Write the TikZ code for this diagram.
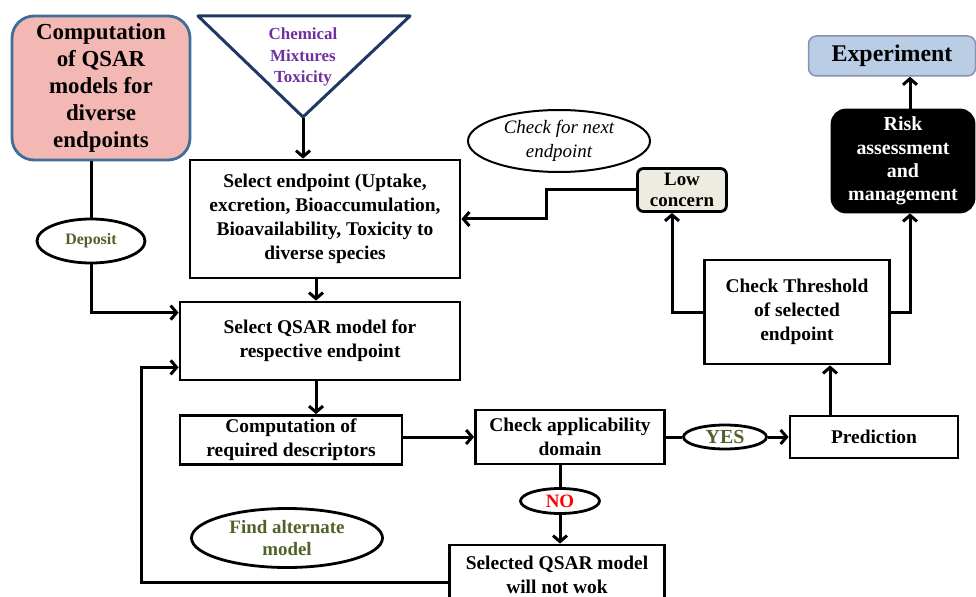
\documentclass[tikz,border=0pt]{standalone}
\usepackage{fontspec}
\setmainfont{Liberation Serif}
\usetikzlibrary{arrows.meta,shapes.geometric}
\begin{document}
\begin{tikzpicture}[x=1bp,y=-1bp,
  box/.style={draw,line width=2.8bp,inner sep=0pt,align=center,font=\bfseries\fontsize{19.5}{24}\selectfont},
  tag/.style={draw,ellipse,line width=2.8bp,inner sep=0pt,align=center,font=\bfseries\fontsize{19}{22}\selectfont},
  link/.style={line width=3bp},
  arr/.style={link,-{Straight Barb[length=6bp,width=14bp]}}]
\definecolor{customcolor0}{HTML}{F4B8B4}
\definecolor{customcolor1}{HTML}{1F3864}
\definecolor{customcolor2}{HTML}{7030A0}
\definecolor{customcolor3}{HTML}{4F6228}
\definecolor{customcolor4}{HTML}{EEECE1}
\definecolor{customcolor5}{HTML}{B9CDE5}
\definecolor{customcolor6}{HTML}{8E8EB4}
\definecolor{customcolor7}{HTML}{3E6F98}
\useasboundingbox (0,0) rectangle (976,597);
% source boxes
\node[box,fill=customcolor0,draw=customcolor7,rounded corners=22bp,minimum width=178bp,minimum height=144bp,font=\bfseries\fontsize{23}{27}\selectfont] (comp) at (101,88) {Computation\\of QSAR\\models for\\diverse\\endpoints};
\draw[customcolor1,line width=3bp,line join=round] (198,16) -- (410,16) -- (303,117) -- cycle;
\coordinate (apex) at (303,118);
\node[align=center,text=customcolor2,font=\bfseries\fontsize{17}{22}\selectfont] (chem) at (303,57) {Chemical\\Mixtures\\Toxicity};
% main column
\coordinate (spine) at (316,0);
\node[box,minimum width=270bp,minimum height=118bp] (selend) at (325,219) {Select endpoint (Uptake,\\excretion, Bioaccumulation,\\Bioavailability, Toxicity to\\diverse species};
\node[box,minimum width=280bp,minimum height=78bp] (qsar) at (320,341) {Select QSAR model for\\respective endpoint};
\node[box,minimum width=222bp,minimum height=49bp] (desc) at (291,440) {Computation of\\required descriptors};
\node[box,minimum width=189bp,minimum height=54bp] (app) at (570,437) {Check applicability\\domain};
\node[box,minimum width=215bp,minimum height=60bp] (sel) at (557,575) {Selected QSAR model\\will not wok};
\node[box,minimum width=168bp,minimum height=42bp] (pred) at (874,437) {Prediction};
\node[box,minimum width=185bp,minimum height=104bp] (thr) at (797,312) {Check Threshold\\of selected\\endpoint};
\node[box,fill=customcolor4,rounded corners=6bp,minimum width=89bp,minimum height=43bp,font=\bfseries\fontsize{19}{21}\selectfont] (low) at (682,190) {Low\\concern};
\node[box,fill=black,text=white,rounded corners=14bp,minimum width=142bp,minimum height=102bp,font=\bfseries\fontsize{20}{23.5}\selectfont] (risk) at (903,161) {Risk\\assessment\\and\\management};
\node[box,fill=customcolor5,draw=customcolor6,line width=1.5bp,rounded corners=8bp,minimum width=167bp,minimum height=40bp,font=\bfseries\fontsize{24}{28}\selectfont] (exp) at (892,56) {Experiment};
% labels
\node[tag,minimum width=108bp,minimum height=44bp,text=customcolor3,font=\bfseries\fontsize{16}{20}\selectfont] (dep) at (91,241) {Deposit};
\node[tag,line width=2bp,minimum width=182bp,minimum height=62bp,font=\itshape\fontsize{19}{24}\selectfont] (next) at (559,141) {Check for next\\endpoint};
\node[tag,minimum width=191bp,minimum height=59bp,text=customcolor3] (find) at (287,538) {Find alternate\\model};
\node[tag,minimum width=83bp,minimum height=24bp,text=customcolor3,font=\bfseries\fontsize{20}{22}\selectfont] (yes) at (725,437) {YES};
\node[tag,minimum width=79bp,minimum height=25bp,text=red] (no) at (560,501) {NO};
% connectors
\draw[link] (comp.south -| dep) -- (dep.north);
\draw[arr] (dep.south) |- ([yshift=-12bp]qsar.north west);
\draw[arr] (apex) -- (apex |- selend.north);
\draw[arr] (selend.south -| spine) -- (qsar.north -| spine);
\draw[arr] (qsar.south -| spine) -- (desc.north -| spine);
\draw[arr] (desc.east |- app.west) -- (app.west);
\draw[link] (app.east) -- (yes.west);
\draw[arr] (yes.east) -- (pred.west);
\draw[link] (no.north |- app.south) -- (no.north);
\draw[arr] (no.south) -- (sel.north -| no.south);
\draw[arr] ([yshift=-7bp]sel.west) -- ++(-307,0) |- ([yshift=14bp]qsar.south west);
\draw[arr] ([xshift=-44bp]pred.north) -- ([xshift=-44bp]pred.north |- thr.south);
\draw[arr] (thr.west) -| ([xshift=-10bp]low.south);
\draw[arr] (thr.east) -| ([xshift=7bp]risk.south);
\draw[arr] ([xshift=7bp]risk.north) -- ([xshift=7bp]risk.north |- exp.south);
\draw[arr] (low.west) -- ++(-90,0) |- (selend.east);
\end{tikzpicture}
\end{document}
